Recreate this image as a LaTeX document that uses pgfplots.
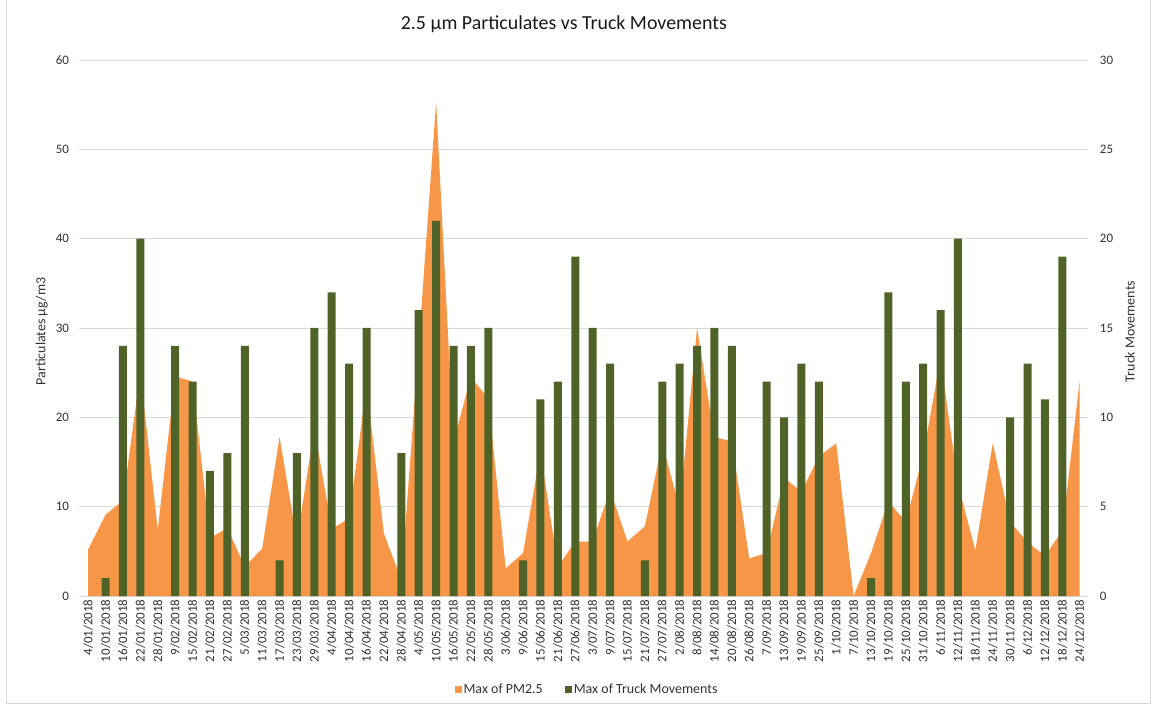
\documentclass[border=0pt]{standalone}
\usepackage{pgfplots}
\pgfplotsset{compat=1.18}
\usepackage{pgfplotstable}
\usepackage{fontspec}
\setmainfont{Carlito}
\definecolor{pmorange}{RGB}{247,150,70}
\definecolor{truckgreen}{RGB}{79,98,40}
\definecolor{gridgray}{RGB}{217,217,217}
\definecolor{labelgray}{RGB}{50,50,50}
\pgfplotsset{sqlegend/.style={legend image code/.code={\fill[##1] (0bp,-3.5bp) rectangle (7bp,3.5bp);}}}

\pgfplotstableread{
idx pm
0 5.2
1 9.1
2 10.7
3 25.0
4 7.4
5 24.6
6 24.0
7 6.5
8 7.6
9 3.3
10 5.3
11 17.8
12 6.2
13 18.8
14 7.5
15 8.7
16 23.6
17 7.0
18 1.8
19 28.0
20 55.3
21 17.3
22 24.5
23 22.1
24 3.1
25 4.8
26 16.2
27 3.3
28 6.1
29 6.1
30 11.9
31 6.1
32 7.8
33 17.1
34 9.8
35 30.0
36 17.8
37 17.3
38 4.2
39 4.8
40 13.2
41 11.7
42 15.6
43 17.1
44 0.0
45 4.8
46 10.6
47 8.3
48 15.8
49 26.6
50 12.5
51 5.1
52 17.1
53 8.3
54 6.0
55 4.5
56 7.3
57 24.2
}\pmtable

\pgfplotstableread{
idx trucks
1 1
2 14
3 20
5 14
6 12
7 7
8 8
9 14
11 2
12 8
13 15
14 17
15 13
16 15
18 8
19 16
20 21
21 14
22 14
23 15
25 2
26 11
27 12
28 19
29 15
30 13
32 2
33 12
34 13
35 14
36 15
37 14
39 12
40 10
41 13
42 12
45 1
46 17
47 12
48 13
49 16
50 20
53 10
54 13
55 11
56 19
}\trucktable

\begin{document}
\begin{tikzpicture}
\path[use as bounding box] (-79.5bp,-113bp) rectangle (1073.5bp,596bp);
\draw[gridgray, line width=1bp] (-72.5bp,620bp) -- (-72.5bp,-107bp) -- (1070.5bp,-107bp) -- (1070.5bp,620bp);
\begin{axis}[
  at={(0,0)}, anchor=south west,
  scale only axis, width=1009bp, height=536bp,
  xmin=-0.5, xmax=57.5, ymin=0, ymax=60,
  xtick={0,...,57},
  xticklabels={4/01/2018,10/01/2018,16/01/2018,22/01/2018,28/01/2018,9/02/2018,15/02/2018,21/02/2018,27/02/2018,5/03/2018,11/03/2018,17/03/2018,23/03/2018,29/03/2018,4/04/2018,10/04/2018,16/04/2018,22/04/2018,28/04/2018,4/05/2018,10/05/2018,16/05/2018,22/05/2018,28/05/2018,3/06/2018,9/06/2018,15/06/2018,21/06/2018,27/06/2018,3/07/2018,9/07/2018,15/07/2018,21/07/2018,27/07/2018,2/08/2018,8/08/2018,14/08/2018,20/08/2018,26/08/2018,7/09/2018,13/09/2018,19/09/2018,25/09/2018,1/10/2018,7/10/2018,13/10/2018,19/10/2018,25/10/2018,31/10/2018,6/11/2018,12/11/2018,18/11/2018,24/11/2018,30/11/2018,6/12/2018,12/12/2018,18/12/2018,24/12/2018},
  ytick={0,10,...,60},
  ymajorgrids, grid style={gridgray, line width=0.9bp},
  axis line style={draw=none},
  major tick length=0pt,
  /pgf/number format/assume math mode=true,
  tick label style={font=\fontsize{13}{13}\selectfont, text=labelgray},
  xticklabel style={rotate=90, anchor=east, yshift=0bp},
  yticklabel style={xshift=-7bp},
  ylabel={Particulates μg/m3},
  every axis y label/.append style={at={(axis description cs:-0.0375,0.4935)}, anchor=center, font=\fontsize{14}{14}\selectfont, text=labelgray},
  title={2.5 μm Particulates vs Truck Movements},
  title style={at={(axis description cs:0.480,1.056)}, anchor=center, font=\fontsize{20}{20}\selectfont, text=black!90},
]
\addplot[fill=pmorange, draw=none] table[x=idx, y=pm] {\pmtable} \closedcycle;
\end{axis}
\begin{axis}[
  at={(0,0)}, anchor=south west,
  scale only axis, width=1009bp, height=536bp,
  xmin=-0.5, xmax=57.5, ymin=0, ymax=30,
  axis x line=none, axis y line*=right,
  axis line style={draw=none},
  xtick=\empty,
  ytick={0,5,...,30},
  major tick length=0pt,
  /pgf/number format/assume math mode=true,
  tick label style={font=\fontsize{13}{13}\selectfont, text=labelgray},
  yticklabel style={xshift=8bp},
  ylabel={Truck Movements},
  every axis y label/.append style={at={(axis description cs:1.0411,0.4935)}, anchor=center, font=\fontsize{14}{14}\selectfont, text=labelgray},
  legend columns=2,
  legend style={at={(axis description cs:0.503,-0.175)}, anchor=center, draw=none, fill=none,
    font=\fontsize{14}{14}\selectfont, text=labelgray,
    /tikz/every even column/.append style={column sep=20bp}},
]
\addlegendimage{sqlegend, fill=pmorange, draw=none}
\addlegendentry{Max of PM2.5}
\addplot[ybar, bar width=8bp, bar shift=0pt, fill=truckgreen, draw=none, sqlegend] table[x=idx, y=trucks] {\trucktable};
\addlegendentry{Max of Truck Movements}
\end{axis}
\end{tikzpicture}
\end{document}
